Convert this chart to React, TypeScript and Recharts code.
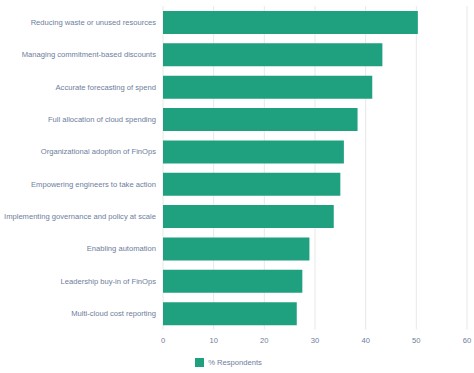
import React from "react";
import { BarChart, Bar, XAxis, YAxis, CartesianGrid, Legend } from "recharts";

const categories = [
  "Reducing waste or unused resources",
  "Managing commitment-based discounts",
  "Accurate forecasting of spend",
  "Full allocation of cloud spending",
  "Organizational adoption of FinOps",
  "Empowering engineers to take action",
  "Implementing governance and policy at scale",
  "Enabling automation",
  "Leadership buy-in of FinOps",
  "Multi-cloud cost reporting",
];
const respondents = [50.3, 43.3, 41.3, 38.4, 35.7, 35.0, 33.7, 28.9, 27.5, 26.4];
const xTicks = [0, 10, 20, 30, 40, 50, 60];
const seriesName = "% Respondents";

const data = categories.map((name, i) => ({ name, value: respondents[i] }));

const FONT = "'Liberation Sans', Arial, Helvetica, sans-serif";
const TEXT = "#6d7e9c";
const BAR = "#1fa07f";

const YTick = (props: any) => {
  const { x, y, payload } = props;
  return (
    <text
      x={x}
      y={y}
      dy="0.355em"
      textAnchor="end"
      fill={TEXT}
      fontSize={7.6}
      fontFamily={FONT}
    >
      {payload.value}
    </text>
  );
};

export default function App() {
  return (
    <div style={{ position: "absolute", left: 0, top: 0, fontFamily: FONT }}>
      <BarChart
        width={474}
        height={373}
        data={data}
        layout="vertical"
        margin={{ top: 6, right: 7, left: 0, bottom: 6 }}
        barCategoryGap={9}
      >
        <CartesianGrid horizontal={false} vertical={true} stroke="#e8e8e8" />
        <XAxis
          type="number"
          domain={[0, 60]}
          ticks={xTicks}
          axisLine={false}
          tickLine={false}
          tickSize={4}
          tickMargin={4}
          height={28}
          tick={{ fill: TEXT, fontSize: 7.6, fontFamily: FONT }}
        />
        <YAxis
          type="category"
          dataKey="name"
          width={163}
          axisLine={false}
          tickLine={false}
          tickSize={5}
          tickMargin={2}
          interval={0}
          tick={<YTick />}
        />
        <Legend
          verticalAlign="bottom"
          align="center"
          iconType="square"
          iconSize={9}
          wrapperStyle={{ fontSize: 7.6, fontFamily: FONT }}
          formatter={(v: string) => <span style={{ color: TEXT }}>{v}</span>}
        />
        <Bar dataKey="value" name={seriesName} fill={BAR} barSize={23} isAnimationActive={false} />
      </BarChart>
    </div>
  );
}
